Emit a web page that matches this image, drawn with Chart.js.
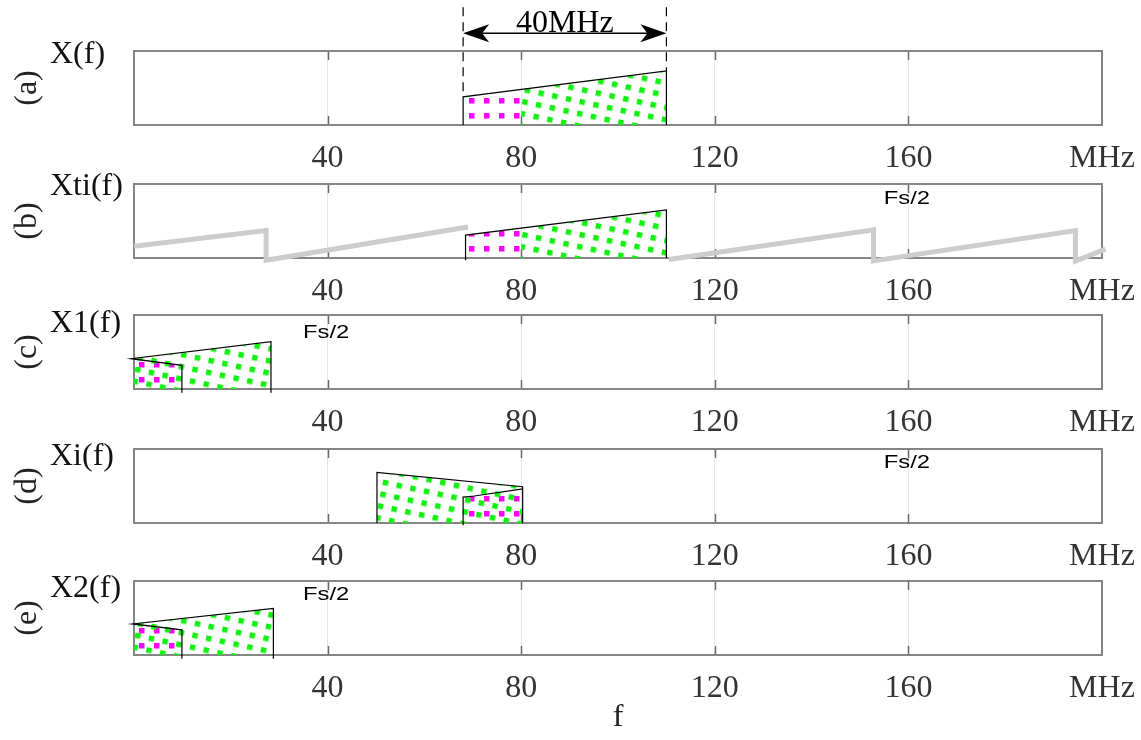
<!DOCTYPE html>
<html>
<head>
<meta charset="utf-8">
<script src="https://cdn.jsdelivr.net/npm/chart.js@4.4.1/dist/chart.umd.min.js"></script>
<style>
  html, body { margin: 0; padding: 0; background: #fff; }
  #wrap { position: relative; width: 1141px; height: 740px; overflow: hidden; }
  #wrap canvas { position: absolute; left: 0; }
</style>
</head>
<body>
<div id="wrap"></div>
<script>
// --- axis ---
const xMin = 0, xMax = 200;
const xTicks = [0, 40, 80, 120, 160, 200];
const xTickLabels = ['', '40', '80', '120', '160', 'MHz'];

const panelTags = ['(a)', '(b)', '(c)', '(d)', '(e)'];
const panelNames = ['X(f)', 'Xti(f)', 'X1(f)', 'Xi(f)', 'X2(f)'];
const fsLabelX = [null, 160, 40, 160, 40];
const fsLabelY = [null, 0.80, 0.76, 0.82, 0.81];

// --- (a) original band ---
const aMagX = [68, 80],   aMagY = [0.38, 0.48];
const aGreenX = [80, 110], aGreenY = [0.48, 0.73];
const aEdgeX = [68, 68, 110, 110], aEdgeY = [0, 0.38, 0.73, 0];
const aDashLX = [68, 68],   aDashLY = [1.59, 0.38];
const aDashRX = [110, 110], aDashRY = [1.59, 0.73];
const bandEdges = [68, 110];
const arrowLevel = 1.24;

// --- (b) with images ---
const bMagX = [68.5, 80],  bMagY = [0.31, 0.40];
const bGreenX = [80, 110], bGreenY = [0.40, 0.65];
const bEdgeX = [68.5, 68.5, 110, 110], bEdgeY = [-0.03, 0.31, 0.65, 0];
const bImageX = [0, 27.3, 27.3, 69, 69, 110.5, 152.8, 152.8, 194.5, 194.5, 200.7];
const bImageY = [0.16, 0.37, -0.03, 0.42, null, -0.02, 0.38, -0.04, 0.37, -0.04, 0.12];

// --- (c) ---
const cMagX = [0, 9.9],     cMagY = [0.41, 0.32];
const cGreenX = [0, 28.3],  cGreenY = [0.41, 0.64];
const cEdgeX = [28.3, 28.3, -0.6, 9.9, 9.9], cEdgeY = [-0.05, 0.64, 0.41, 0.32, -0.05];

// --- (d) ---
const dGreenX = [50.2, 80.3], dGreenY = [0.685, 0.49];
const dMagX = [68, 70.3, 80.3], dMagY = [0.35, 0.365, 0.46];
const dEdgeX = [50.2, 50.2, 80.3, 80.3], dEdgeY = [0, 0.685, 0.49, 0];
const dMagEdgeX = [68, 68, 70.3, 80.3], dMagEdgeY = [-0.03, 0.35, 0.365, 0.46];

// --- (e) ---
const eMagX = [0, 9.9],     eMagY = [0.42, 0.34];
const eGreenX = [0, 28.8],  eGreenY = [0.42, 0.63];
const eEdgeX = [28.8, 28.8, -0.3, 9.9, 9.9], eEdgeY = [-0.05, 0.63, 0.42, 0.34, -0.05];

// layout
const panelTops = [51, 184, 315, 449, 581];
const nameDy = [12, 11, 17, 16, 16];
const boxH = 74;
const SERIF = '"Liberation Serif", "Times New Roman", serif';
const SANS = '"Liberation Sans", Arial, sans-serif';

function makePattern(color, w, h, sq, angle, dx, dy) {
  const c = document.createElement('canvas');
  c.width = w; c.height = h;
  const g = c.getContext('2d');
  g.fillStyle = color;
  g.fillRect(0, 0, sq, sq);
  const p = g.createPattern(c, 'repeat');
  p.setTransform(new DOMMatrix().translate(dx || 0, dy || 0).rotate(angle || 0));
  return p;
}
const magentaDots = makePattern('#ff00ff', 15, 15, 5.5, 0, 4, 8);
const greenDots = makePattern('#12f012', 14, 12, 5.5, 12, 0, 0);

const pts = (xs, ys) => xs.map((x, i) => ({ x, y: ys[i] }));

function fillSet(xs, ys, pattern) {
  return { data: pts(xs, ys), fill: 'origin', backgroundColor: pattern,
           borderWidth: 0, pointRadius: 0 };
}
function lineSet(xs, ys, color, width, dash) {
  return { data: pts(xs, ys), fill: false, borderColor: color, borderWidth: width,
           borderDash: dash || [], pointRadius: 0, clip: false,
           borderJoinStyle: 'miter', borderCapStyle: 'butt' };
}

const panelSets = [
  [lineSet(aEdgeX, aEdgeY, '#000', 1.2),
   lineSet(aDashLX, aDashLY, '#000', 1.2, [9, 6]),
   lineSet(aDashRX, aDashRY, '#000', 1.2, [9, 6]),
   fillSet(aGreenX, aGreenY, greenDots),
   fillSet(aMagX, aMagY, magentaDots)],
  [lineSet(bImageX, bImageY, '#cccccc', 5),
   lineSet(bEdgeX, bEdgeY, '#000', 1.2),
   fillSet(bGreenX, bGreenY, greenDots),
   fillSet(bMagX, bMagY, magentaDots)],
  [lineSet(cEdgeX, cEdgeY, '#000', 1.2),
   fillSet(cGreenX, cGreenY, greenDots),
   fillSet(cMagX, cMagY, magentaDots)],
  [lineSet(dEdgeX, dEdgeY, '#000', 1.2),
   lineSet(dMagEdgeX, dMagEdgeY, '#000', 1.2),
   fillSet(dGreenX, dGreenY, greenDots),
   fillSet(dMagX, dMagY, magentaDots)],
  [lineSet(eEdgeX, eEdgeY, '#000', 1.2),
   fillSet(eGreenX, eGreenY, greenDots),
   fillSet(eMagX, eMagY, magentaDots)]
];

// box, inner tick marks and text annotations
const panelDeco = {
  id: 'panelDeco',
  beforeDatasetsDraw(chart) {
    const { ctx, chartArea: a, scales: { x } } = chart;
    ctx.save();
    ctx.strokeStyle = '#6a6a6a';
    ctx.lineWidth = 1.5;
    xTicks.forEach(v => {
      if (v <= xMin || v >= xMax) return;
      const px = Math.round(x.getPixelForValue(v)) + 0.5;
      ctx.beginPath();
      ctx.moveTo(px, a.top); ctx.lineTo(px, a.top + 9);
      ctx.moveTo(px, a.bottom); ctx.lineTo(px, a.bottom - 9);
      ctx.stroke();
    });
    ctx.strokeStyle = '#858585';
    ctx.lineWidth = 2;
    ctx.strokeRect(a.left, a.top, a.right - a.left, a.bottom - a.top);
    ctx.restore();
  },
  afterDraw(chart, args, opts) {
    const { ctx, chartArea: a, scales: { x, y } } = chart;
    ctx.save();
    ctx.fillStyle = '#111';
    ctx.font = '32px ' + SERIF;
    ctx.textAlign = 'left';
    ctx.textBaseline = 'alphabetic';
    ctx.fillText(opts.name, 50, a.top + opts.nameDy);

    if (opts.fsX != null) {
      ctx.save();
      ctx.translate(x.getPixelForValue(opts.fsX) - 1.5, y.getPixelForValue(opts.fsY));
      ctx.scale(1.25, 1);
      ctx.font = '19px ' + SANS;
      ctx.fillStyle = '#000';
      ctx.textAlign = 'center';
      ctx.textBaseline = 'middle';
      ctx.fillText('Fs/2', 0, 0);
      ctx.restore();
    }

    if (opts.arrow) {
      const x0 = x.getPixelForValue(bandEdges[0]);
      const x1 = x.getPixelForValue(bandEdges[1]);
      const ay = y.getPixelForValue(arrowLevel);
      ctx.strokeStyle = '#000';
      ctx.fillStyle = '#000';
      ctx.lineWidth = 1.5;
      ctx.beginPath();
      ctx.moveTo(x0 + 10, ay); ctx.lineTo(x1 - 10, ay);
      ctx.stroke();
      [[x0, 1], [x1, -1]].forEach(([tip, d]) => {
        ctx.beginPath();
        ctx.moveTo(tip, ay);
        ctx.lineTo(tip + d * 26, ay - 9);
        ctx.lineTo(tip + d * 19, ay);
        ctx.lineTo(tip + d * 26, ay + 9);
        ctx.closePath();
        ctx.fill();
      });
      ctx.font = '32px ' + SERIF;
      ctx.textAlign = 'center';
      ctx.textBaseline = 'alphabetic';
      ctx.fillText('40MHz', (x0 + x1) / 2, ay - 1);
    }
    ctx.restore();
  }
};

const wrap = document.getElementById('wrap');
panelTags.forEach((tag, i) => {
  const last = i === panelTags.length - 1;
  const top = panelTops[i] - 51;
  const axisH = last ? 740 - panelTops[i] - boxH : 50;
  const canvas = document.createElement('canvas');
  canvas.width = 1141;
  canvas.height = 51 + boxH + axisH;
  canvas.style.top = top + 'px';
  wrap.appendChild(canvas);

  new Chart(canvas.getContext('2d'), {
    type: 'line',
    data: { datasets: panelSets[i] },
    options: {
      responsive: false,
      animation: false,
      events: [],
      layout: { padding: { top: 51, right: 39, left: 0, bottom: 0 } },
      scales: {
        x: {
          type: 'linear',
          min: xMin,
          max: xMax,
          afterBuildTicks: s => { s.ticks = xTicks.map(v => ({ value: v })); },
          afterFit: s => { s.height = axisH; s.paddingLeft = 0; s.paddingRight = 0; },
          ticks: {
            callback: v => xTickLabels[xTicks.indexOf(v)] ?? '',
            font: { family: SERIF, size: 32 },
            color: '#333',
            padding: 14,
            maxRotation: 0,
            autoSkip: false
          },
          grid: { color: '#e6e6e6', lineWidth: 1, drawTicks: false },
          border: { display: false },
          title: {
            display: last,
            text: 'f',
            font: { family: SERIF, size: 32 },
            color: '#222',
            padding: { top: 0, bottom: 3 }
          }
        },
        y: {
          min: 0,
          max: 1,
          afterFit: s => { s.width = 134; s.paddingTop = 0; s.paddingBottom = 0; },
          ticks: { display: false },
          grid: { display: false },
          border: { display: false },
          title: {
            display: true,
            text: tag,
            font: { family: SERIF, size: 32 },
            color: '#222',
            padding: { top: 8, bottom: 0 }
          }
        }
      },
      plugins: {
        legend: { display: false },
        tooltip: { enabled: false },
        panelDeco: {
          name: panelNames[i],
          nameDy: nameDy[i],
          fsX: fsLabelX[i],
          fsY: fsLabelY[i],
          arrow: i === 0
        }
      }
    },
    plugins: [panelDeco]
  });
});
</script>
</body>
</html>
